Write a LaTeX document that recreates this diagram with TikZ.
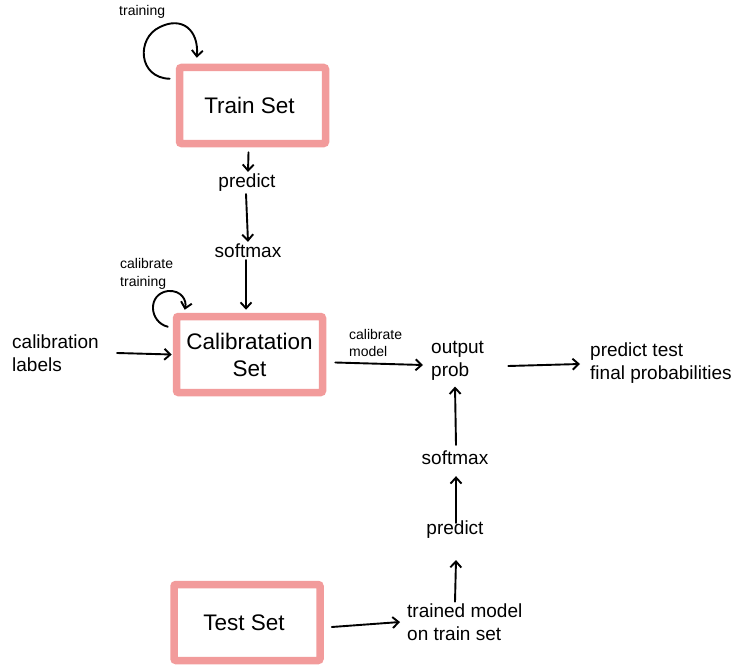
\documentclass[tikz,border=0pt]{standalone}
\usepackage{fontspec}
\setmainfont{Liberation Sans}
\usetikzlibrary{arrows.meta}
\definecolor{boxpink}{HTML}{F29B9B}
\begin{document}
\begin{tikzpicture}[x=1pt,y=-1pt,
 setbox/.style={draw=boxpink, line width=7.5pt, rounded corners=2pt, minimum width=146pt, minimum height=76pt, font=\fontsize{22.5}{27}\selectfont, align=center},
 lbl/.style={font=\fontsize{19}{22.5}\selectfont, inner sep=2pt},
 small/.style={font=\fontsize{14}{17.5}\selectfont, align=left, inner sep=0pt},
 arr/.style={-{Straight Barb[length=6pt,width=11pt]}, line width=1.9pt, line cap=round, line join=round}]
\useasboundingbox (0,0) rectangle (735,666);

\node[setbox] (train) at (252.5,105.5) {Train Set\hspace*{6pt}};
\node[setbox] (calib) at (249.5,354.5) {Calibratation\\Set};
\node[setbox] (test) at (247,622.5) {Test Set\hspace*{6pt}};

\node[small, anchor=west] (trn) at (119,12) {training};
\node[lbl] (pred1) at (247,183) {predict};
\node[lbl] (soft1) at (248,251) {softmax};
\node[small, anchor=west] (caltr) at (120,274) {calibrate\\training};
\node[lbl, align=left, anchor=west] (cl) at (10,353) {calibration\\labels};
\node[small, anchor=west] (cm) at (349,343) {calibrate\\model};
\node[lbl, align=left, anchor=west] (out) at (429,361) {output\\prob};
\node[lbl, align=left, anchor=west] (fin) at (588,363) {predict test\\final probabilities};
\node[lbl] (soft2) at (455,458) {softmax};
\node[lbl] (pred2) at (455,530) {predict};
\node[lbl, align=left, anchor=west] (tm) at (405,622) {trained model\\on train set};

% loops
\draw[arr] ([xshift=-6pt,yshift=-15pt]train.north west) .. controls (138,78) and (136,38) .. (160,27) .. controls (182,16) and (199,30) .. ([xshift=21pt,yshift=6pt]train.north west);
\draw[arr] ([xshift=-5pt,yshift=-14pt]calib.north west) .. controls (149,322) and (147,294) .. (168,291) .. controls (181,290) and (187,300) .. ([xshift=12pt,yshift=3pt]calib.north west);

% vertical chain on the left
\draw[arr] ([xshift=-4pt,yshift=-5pt]train.south) -- ([xshift=1pt]pred1.north);
\draw[arr] ([xshift=-1pt]pred1.south) -- (soft1.north);
\draw[arr] ([xshift=-2pt]soft1.south) -- ([xshift=-3.5pt,yshift=3pt]calib.north);

% horizontal
\draw[arr] ([xshift=16pt]cl.east) -- ([xshift=-1pt]calib.west);
\draw[arr] ([xshift=9pt,yshift=-8pt]calib.east) -- ([xshift=-6pt,yshift=-4pt]out.west);
\draw[arr] ([xshift=22pt,yshift=-5pt]out.east) -- ([xshift=-8pt,yshift=-1pt]fin.west);
\draw[arr] ([xshift=8pt,yshift=-4.5pt]test.east) -- ([xshift=-5pt]tm.west);

% vertical chain on the right
\draw[arr] (tm.north -| pred2.south) -- ([yshift=-19pt,xshift=1pt]pred2.south);
\draw[arr] ([yshift=-4pt,xshift=1pt]pred2.north) -- ([yshift=-9pt,xshift=1pt]soft2.south);
\draw[arr] ([yshift=4pt,xshift=1pt]soft2.north) -- ([yshift=-4pt]out.south -| soft2.north);
\end{tikzpicture}
\end{document}
